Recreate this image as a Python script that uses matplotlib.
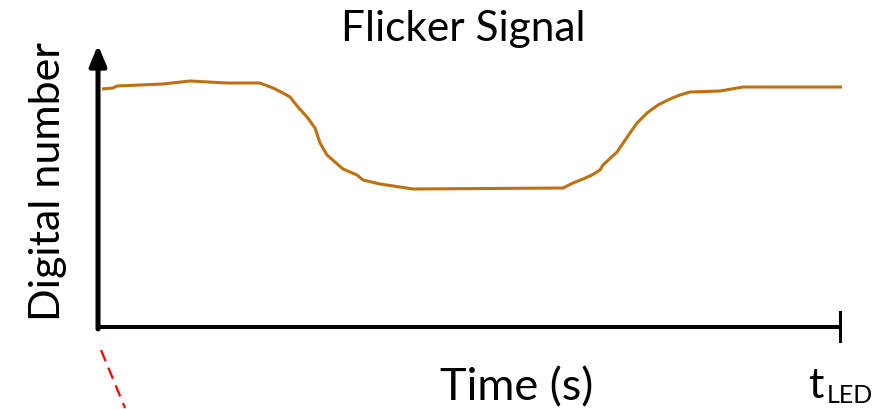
import matplotlib
matplotlib.use("Agg")
import matplotlib.pyplot as plt

plt.rcParams['font.family'] = ['Lato', 'DejaVu Sans']

# Data (time in arbitrary units, digital number in arbitrary units)
time = [4, 15, 19, 65, 92, 129, 162, 175, 185, 192, 200, 209, 217, 222, 229,
        237, 245, 259, 265, 282, 302, 315, 465, 475, 485, 494, 502, 505, 519,
        532, 539, 549, 560, 572, 582, 592, 622, 645, 744]
dn = [238, 239, 241, 243, 246, 244, 244, 239, 234, 230, 220, 210, 199, 184, 172,
      165, 158, 152, 147, 143, 140, 138, 139, 144, 148, 152, 157, 162, 175,
      194, 204, 214, 222, 228, 232, 235, 236, 240, 240]

title = "Flicker Signal"
ylabel = "Digital number"
xlabel = "Time (s)"

W, H = 892, 409
fig = plt.figure(figsize=(W / 100, H / 100), dpi=100)

def fx(px):
    return px / W

def fy(py):
    return 1 - py / H

x0, x1, ytop, ybot = 98, 842, 45, 327
ax = fig.add_axes([fx(x0), fy(ybot), (x1 - x0) / W, (ybot - ytop) / H])
ax.set_xlim(0, x1 - x0)
ax.set_ylim(0, ybot - ytop)
ax.axis('off')

ax.plot(time, dn, color='#BF7111', lw=2.2, solid_capstyle='butt', clip_on=False)

# y axis arrow
ax.annotate('', xy=(0, 282), xytext=(0, -2),
            arrowprops=dict(arrowstyle='-|>,head_length=1.2,head_width=0.5',
                            lw=3.6, color='black', shrinkA=0, shrinkB=0),
            annotation_clip=False)
# x axis line and end tick
ax.plot([0, 742], [0, 0], color='black', lw=2.9, clip_on=False, solid_capstyle='projecting')
ax.plot([742, 742], [-14, 15], color='black', lw=2.2, clip_on=False)

# red dashed line
ax.plot([3, 27], [-23, -81], color='#FF0000', lw=1.6, ls=(0, (5.4, 3.2)), clip_on=False)

fig.text(fx(463), fy(40.7), title, ha='center', va='baseline', fontsize=30.5)
fig.text(fx(60), fy(181.5), ylabel, ha='center', va='baseline', fontsize=31,
         rotation=90, rotation_mode='anchor')
fig.text(fx(516.7), fy(400), xlabel, ha='center', va='baseline', fontsize=32.5)
fig.text(fx(808), fy(398), 't', ha='left', va='baseline', fontsize=31)
fig.text(fx(826.7), fy(403), 'LED', ha='left', va='baseline', fontsize=18)

fig.savefig('out.png', dpi=100)
